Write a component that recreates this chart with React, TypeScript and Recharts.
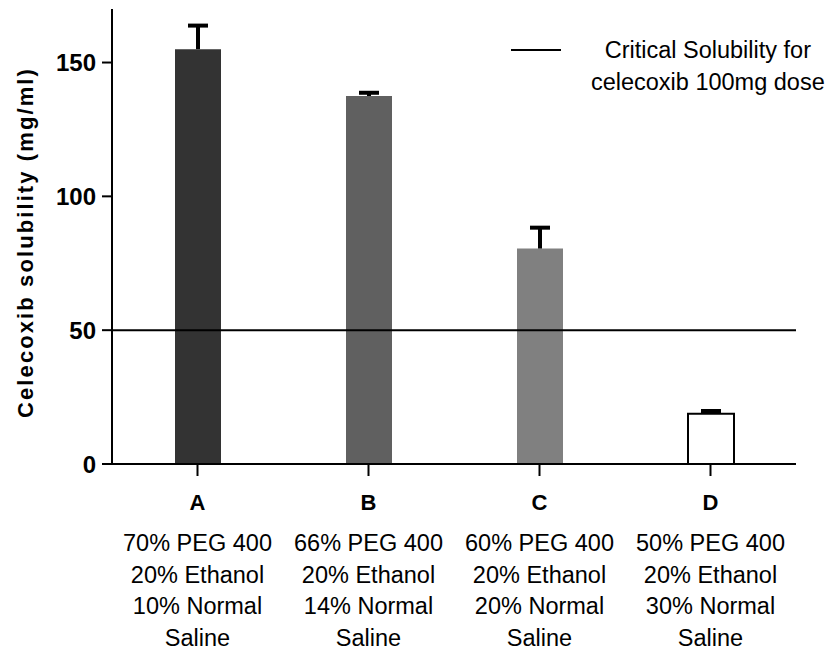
import { BarChart, Bar, XAxis, YAxis, Cell, ReferenceLine, Legend } from "recharts";

const categories = ["A", "B", "C", "D"];
const compositions = [
  ["70% PEG 400", "20% Ethanol", "10% Normal", "Saline"],
  ["66% PEG 400", "20% Ethanol", "14% Normal", "Saline"],
  ["60% PEG 400", "20% Ethanol", "20% Normal", "Saline"],
  ["50% PEG 400", "20% Ethanol", "30% Normal", "Saline"],
];
const solubility = [155, 137.5, 80.5, 18.8];
const solubilityErr = [8.8, 1.2, 7.8, 1.0];
const barColors = ["#333333", "#606060", "#808080", "#ffffff"];
const yTicks = [0, 50, 100, 150];
const criticalSolubility = 50;

const FONT = '"Liberation Sans", Arial, Helvetica, sans-serif';

const data = categories.map((name, i) => ({
  name,
  value: solubility[i],
  err: solubilityErr[i],
}));

// upward-only error bar, stacked on top of the value bar
const ErrorCap = (props: any) => {
  const { x, y, width, height } = props;
  const cx = x + width / 2;
  return (
    <g>
      <line x1={cx} y1={y + height} x2={cx} y2={y} stroke="#000" strokeWidth={4} />
      <line x1={cx - 10} y1={y} x2={cx + 10} y2={y} stroke="#000" strokeWidth={4} />
    </g>
  );
};

const CategoryTick = (props: any) => {
  const { x, y, payload, index } = props;
  const lines = compositions[index] || [];
  return (
    <g transform={`translate(${x},${y})`}>
      <text textAnchor="middle" dy={32} fontSize={22} fontWeight="bold" fill="#000" fontFamily={FONT}>
        {payload.value}
      </text>
      {lines.map((t: string, k: number) => (
        <text key={k} textAnchor="middle" dy={73 + k * 31.5} fontSize={23.5} fill="#000" fontFamily={FONT}>
          {t}
        </text>
      ))}
    </g>
  );
};

const YLabel = (props: any) => {
  const { viewBox } = props;
  const cy = viewBox.y + viewBox.height / 2 + 6;
  return (
    <text
      transform={`translate(25,${cy}) rotate(-90)`}
      textAnchor="middle"
      dominantBaseline="central"
      fontSize={22}
      fontWeight="bold"
      letterSpacing={2.1}
      fill="#000"
      fontFamily={FONT}
    >
      Celecoxib solubility (mg/ml)
    </text>
  );
};

const LegendBox = () => (
  <div style={{ display: "flex", alignItems: "flex-start", fontFamily: FONT, color: "#000" }}>
    <div style={{ width: 50, height: 2, background: "#000", marginTop: 15 }} />
    <div
      style={{
        marginLeft: 18,
        width: 260,
        textAlign: "center",
        fontSize: 23.5,
        lineHeight: "32px",
        whiteSpace: "nowrap",
      }}
    >
      <div>Critical Solubility for</div>
      <div>celecoxib 100mg dose</div>
    </div>
  </div>
);

export default function App() {
  return (
    <div style={{ position: "absolute", left: 0, top: 0, background: "#fff" }}>
      <BarChart
        width={837}
        height={653}
        data={data}
        margin={{ top: 9, right: 41, bottom: 0, left: 0 }}
      >
        <XAxis
          dataKey="name"
          height={189}
          axisLine={{ stroke: "#000", strokeWidth: 2 }}
          tickLine={{ stroke: "#000", strokeWidth: 2 }}
          tickSize={12}
          tick={<CategoryTick />}
          interval={0}
        />
        <YAxis
          width={112}
          domain={[0, 170]}
          ticks={yTicks}
          axisLine={{ stroke: "#000", strokeWidth: 2 }}
          tickLine={{ stroke: "#000", strokeWidth: 2 }}
          tickSize={10}
          tickMargin={6}
          tick={{ fill: "#000", fontSize: 24, fontWeight: "bold", fontFamily: FONT }}
          label={<YLabel />}
        />
        <Legend
          layout="vertical"
          align="center"
          verticalAlign="middle"
          wrapperStyle={{ left: 511, top: 34, width: 326 }}
          content={<LegendBox />}
        />
        <Bar dataKey="value" stackId="s" barSize={46} isAnimationActive={false}>
          {data.map((d, i) => (
            <Cell
              key={d.name}
              fill={barColors[i]}
              stroke={i === 3 ? "#000" : "none"}
              strokeWidth={i === 3 ? 2 : 0}
            />
          ))}
        </Bar>
        <Bar dataKey="err" stackId="s" barSize={46} shape={<ErrorCap />} isAnimationActive={false} />
        <ReferenceLine y={criticalSolubility} stroke="#000" strokeWidth={2} />
      </BarChart>
    </div>
  );
}
